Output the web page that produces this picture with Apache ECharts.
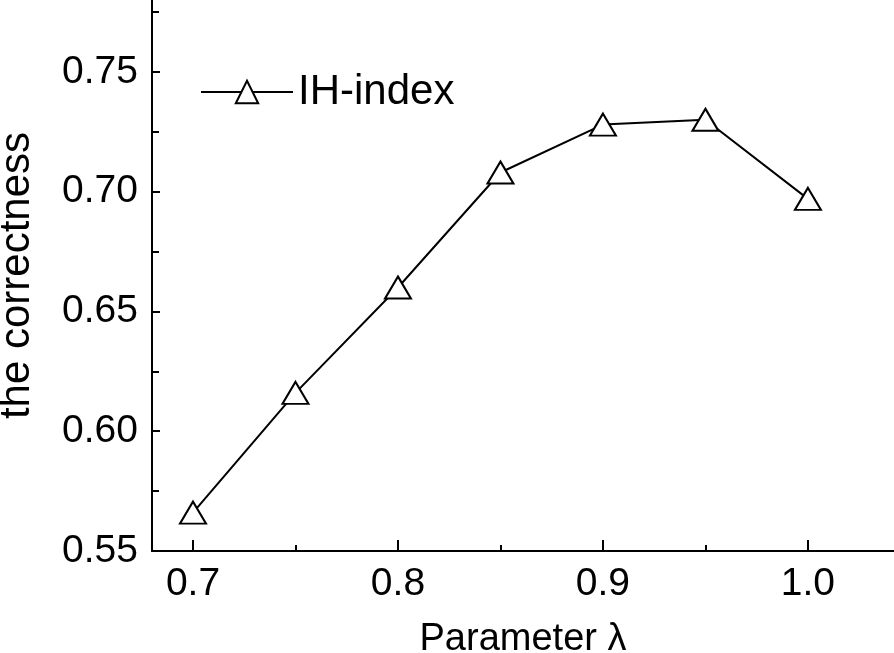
<html>
<head>
<script src="https://cdn.jsdelivr.net/npm/echarts@6/dist/echarts.min.js"></script>
</head>
<body style="margin:0;background:#fff">
<div id="main" style="width:894px;height:653px;"></div>
<script type="text/javascript">
var lambdas = [0.7, 0.75, 0.8, 0.85, 0.9, 0.95, 1.0];
var correctness = [0.566, 0.616, 0.660, 0.708, 0.728, 0.730, 0.697];
var xMajor = [0.7, 0.8, 0.9, 1.0];
var xMinor = [0.75, 0.85, 0.95];
var yMajor = [0.55, 0.60, 0.65, 0.70, 0.75];
var yMinor = [0.575, 0.625, 0.675, 0.725, 0.775];

var FONT = 'Liberation Sans, Arial, sans-serif';
var myChart = echarts.init(document.getElementById('main'));

var pts = lambdas.map(function (x, i) { return [x, correctness[i]]; });

var option = {
    backgroundColor: '#fff',
    animation: false,
    grid: { left: 152, right: 0, top: 0, bottom: 102, outerBoundsMode: 'none', containLabel: false },
    legend: {
        left: 195, top: 66,
        itemWidth: 92, itemHeight: 28, itemGap: 10,
        textStyle: { fontFamily: FONT, fontSize: 42, color: '#000' },
        data: ['IH-index']
    },
    xAxis: [{
        type: 'value', min: 0.68, max: 1.042,
        name: 'Parameter λ', nameLocation: 'middle', nameGap: 70,
        nameTextStyle: { fontFamily: FONT, fontSize: 38, color: '#000' },
        axisLine: { lineStyle: { color: '#000', width: 2 } },
        axisTick: { inside: true, length: 11, customValues: xMajor, lineStyle: { color: '#000', width: 2 } },
        axisLabel: { customValues: xMajor, margin: 14, fontFamily: FONT, fontSize: 39, color: '#000',
            formatter: function (v) { return v.toFixed(1); } },
        splitLine: { show: false }
    }, {
        type: 'value', min: 0.68, max: 1.042, position: 'bottom',
        axisLine: { show: false },
        axisTick: { inside: true, length: 6, customValues: xMinor, lineStyle: { color: '#000', width: 2 } },
        axisLabel: { show: false },
        splitLine: { show: false }
    }],
    yAxis: [{
        type: 'value', min: 0.55, max: 0.78,
        name: 'the correctness', nameLocation: 'middle', nameGap: 114,
        nameTextStyle: { fontFamily: FONT, fontSize: 42, color: '#000' },
        axisLine: { show: true, lineStyle: { color: '#000', width: 2 } },
        axisTick: { show: true, inside: true, length: 8, customValues: yMajor, lineStyle: { color: '#000', width: 2 } },
        axisLabel: { customValues: yMajor, margin: 14, fontFamily: FONT, fontSize: 39, color: '#000',
            formatter: function (v) { return v.toFixed(2); } },
        splitLine: { show: false }
    }, {
        type: 'value', min: 0.55, max: 0.78, position: 'left',
        axisLine: { show: false },
        axisTick: { show: true, inside: true, length: 7, customValues: yMinor, lineStyle: { color: '#000', width: 2 } },
        axisLabel: { show: false },
        splitLine: { show: false }
    }],
    series: [{
        name: 'IH-index',
        type: 'line',
        data: pts,
        symbol: 'triangle',
        symbolSize: [26, 22],
        lineStyle: { color: '#000', width: 2 },
        itemStyle: { color: '#fff', borderColor: '#000', borderWidth: 2 }
    }]
};
myChart.setOption(option);
</script>
</body>
</html>
